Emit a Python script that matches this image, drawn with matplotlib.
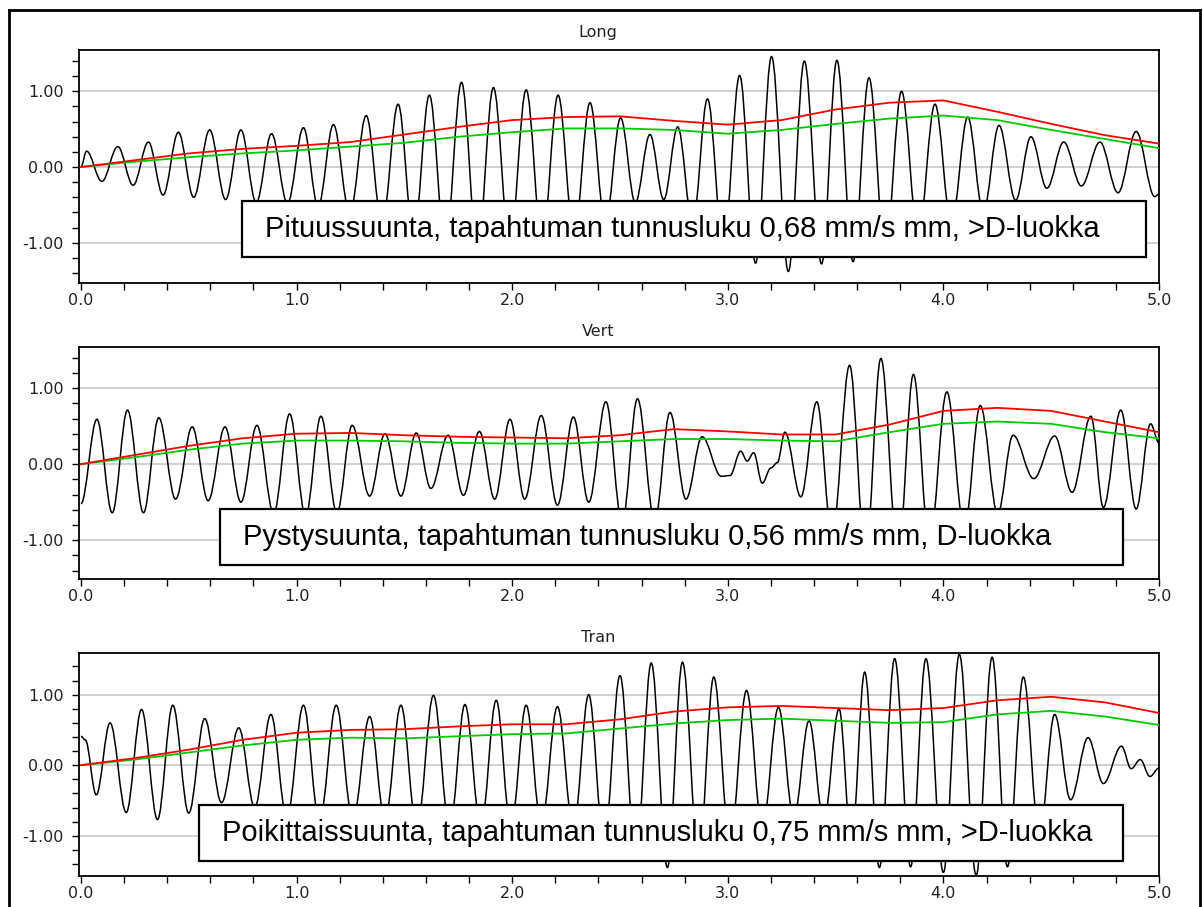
import matplotlib
matplotlib.use("Agg")
import matplotlib.pyplot as plt
from matplotlib.path import Path
from matplotlib.patches import PathPatch, Rectangle
from matplotlib.lines import Line2D
from matplotlib.ticker import MultipleLocator, FixedLocator

# ---------------- data ----------------
titles = ["Long", "Vert", "Tran"]
box_texts = [
    "Pituussuunta, tapahtuman tunnusluku 0,68 mm/s mm, >D-luokka",
    "Pystysuunta, tapahtuman tunnusluku 0,56 mm/s mm, D-luokka",
    "Poikittaissuunta, tapahtuman tunnusluku 0,75 mm/s mm, >D-luokka",
]
x_tick_labels = ["0.0", "1.0", "2.0", "3.0", "4.0", "5.0"]
y_tick_labels = ["-1.00", "0.00", "1.00"]

# signal extrema (time s, value mm/s)
long_t = [0.0, 0.026, 0.097, 0.171, 0.242, 0.313, 0.381, 0.452, 0.523, 0.597, 0.671,
          0.742, 0.813, 0.884, 0.958, 1.032, 1.10, 1.171, 1.247, 1.323, 1.397, 1.471,
          1.543, 1.616, 1.69, 1.765, 1.839, 1.913, 1.989, 2.065, 2.139, 2.213, 2.287,
          2.361, 2.432, 2.503, 2.571, 2.639, 2.703, 2.768, 2.837, 2.906, 2.98, 3.055,
          3.129, 3.203, 3.281, 3.355, 3.435, 3.506, 3.581, 3.655, 3.73, 3.806, 3.883,
          3.961, 4.037, 4.113, 4.185, 4.258, 4.335, 4.406, 4.48, 4.558, 4.64, 4.726,
          4.81, 4.894, 4.98, 5.0]
long_v = [0.0, 0.21, -0.19, 0.27, -0.24, 0.33, -0.37, 0.46, -0.40, 0.49, -0.43,
          0.49, -0.47, 0.44, -0.48, 0.52, -0.52, 0.56, -0.62, 0.68, -0.75, 0.83,
          -0.90, 0.95, -1.02, 1.12, -1.08, 1.05, -1.02, 1.02, -0.98, 0.95, -0.90,
          0.85, -0.75, 0.65, -0.47, 0.43, -0.43, 0.53, -0.75, 0.90, -1.05, 1.21,
          -1.27, 1.46, -1.38, 1.40, -1.28, 1.41, -1.25, 1.18, -1.10, 1.00, -0.90,
          0.83, -0.75, 0.66, -0.60, 0.55, -0.44, 0.40, -0.28, 0.33, -0.25, 0.33,
          -0.34, 0.47, -0.39, -0.36]

vert_t = [0.0, 0.074, 0.145, 0.216, 0.290, 0.361, 0.439, 0.516, 0.590, 0.668, 0.742,
          0.816, 0.894, 0.968, 1.042, 1.113, 1.187, 1.258, 1.339, 1.410, 1.484, 1.555,
          1.623, 1.703, 1.774, 1.848, 1.919, 1.990, 2.058, 2.135, 2.210, 2.284, 2.355,
          2.435, 2.510, 2.581, 2.661, 2.732, 2.806, 2.881, 2.97, 3.01, 3.06, 3.09,
          3.12, 3.16, 3.20, 3.23, 3.265, 3.339, 3.413, 3.484, 3.565, 3.639, 3.710,
          3.790, 3.861, 3.935, 4.016, 4.097, 4.171, 4.252, 4.323, 4.419, 4.516, 4.597,
          4.684, 4.742, 4.823, 4.894, 4.961, 5.0]
vert_v = [-0.52, 0.59, -0.64, 0.71, -0.64, 0.61, -0.46, 0.49, -0.48, 0.49, -0.50,
          0.51, -0.65, 0.66, -0.68, 0.63, -0.64, 0.51, -0.42, 0.40, -0.42, 0.41,
          -0.32, 0.38, -0.41, 0.43, -0.46, 0.59, -0.46, 0.64, -0.54, 0.62, -0.50,
          0.82, -0.78, 0.86, -0.75, 0.68, -0.46, 0.36, -0.16, -0.15, 0.17, 0.04,
          0.15, -0.25, -0.05, 0.02, 0.42, -0.43, 0.82, -0.95, 1.30, -1.20, 1.39,
          -1.20, 1.18, -1.05, 0.95, -0.85, 0.77, -0.65, 0.38, -0.19, 0.37, -0.37,
          0.63, -0.57, 0.71, -0.59, 0.53, 0.28]

tran_t = [0.0, 0.02, 0.071, 0.135, 0.210, 0.281, 0.355, 0.426, 0.500, 0.574, 0.652,
          0.732, 0.806, 0.881, 0.955, 1.032, 1.106, 1.184, 1.261, 1.339, 1.41, 1.484,
          1.558, 1.635, 1.71, 1.781, 1.855, 1.926, 1.994, 2.065, 2.135, 2.210, 2.284,
          2.355, 2.426, 2.500, 2.574, 2.645, 2.72, 2.790, 2.865, 2.935, 3.01, 3.087,
          3.16, 3.235, 3.306, 3.377, 3.445, 3.516, 3.574, 3.635, 3.703, 3.774, 3.848,
          3.919, 4.0, 4.074, 4.152, 4.226, 4.297, 4.371, 4.445, 4.516, 4.590, 4.671,
          4.742, 4.826, 4.871, 4.913, 4.958, 5.0]
tran_v = [0.41, 0.36, -0.42, 0.60, -0.67, 0.79, -0.77, 0.85, -0.68, 0.66, -0.53,
          0.53, -0.60, 0.72, -0.75, 0.85, -0.80, 0.85, -0.78, 0.69, -0.78, 0.85,
          -0.90, 0.99, -0.90, 0.86, -0.88, 0.92, -0.88, 0.85, -0.85, 0.83, -0.90,
          1.00, -1.10, 1.27, -1.30, 1.45, -1.45, 1.46, -1.30, 1.25, -1.10, 1.06,
          -0.90, 0.82, -0.75, 0.63, -0.80, 0.80, -1.10, 1.32, -1.45, 1.51, -1.44,
          1.51, -1.52, 1.57, -1.56, 1.53, -1.44, 1.25, -1.00, 0.72, -0.49, 0.39,
          -0.26, 0.27, -0.05, 0.08, -0.16, -0.04]

# running envelope curves (red and green), sampled every 0.25 s
env_t = [0.0, 0.25, 0.5, 0.75, 1.0, 1.25, 1.5, 1.75, 2.0, 2.25, 2.5,
         2.75, 3.0, 3.25, 3.5, 3.75, 4.0, 4.25, 4.5, 4.75, 5.0]
long_red = [0.0, 0.09, 0.18, 0.24, 0.28, 0.33, 0.43, 0.53, 0.62, 0.66, 0.67,
            0.61, 0.56, 0.62, 0.76, 0.85, 0.88, 0.73, 0.57, 0.42, 0.31]
long_green = [0.0, 0.07, 0.13, 0.18, 0.22, 0.27, 0.32, 0.40, 0.46, 0.51, 0.51,
              0.49, 0.44, 0.49, 0.57, 0.64, 0.68, 0.62, 0.49, 0.37, 0.25]
vert_red = [0.0, 0.12, 0.24, 0.34, 0.40, 0.41, 0.38, 0.36, 0.35, 0.34, 0.38,
            0.46, 0.43, 0.39, 0.39, 0.52, 0.70, 0.74, 0.70, 0.56, 0.42]
vert_green = [0.0, 0.09, 0.19, 0.27, 0.31, 0.31, 0.30, 0.28, 0.27, 0.27, 0.30,
              0.33, 0.33, 0.31, 0.30, 0.42, 0.53, 0.56, 0.53, 0.42, 0.34]
tran_red = [0.0, 0.10, 0.22, 0.36, 0.46, 0.50, 0.51, 0.55, 0.58, 0.58, 0.65,
            0.76, 0.82, 0.84, 0.81, 0.78, 0.81, 0.92, 0.97, 0.89, 0.74]
tran_green = [0.0, 0.08, 0.18, 0.28, 0.36, 0.39, 0.38, 0.41, 0.44, 0.45, 0.52,
              0.59, 0.64, 0.66, 0.63, 0.60, 0.61, 0.72, 0.77, 0.69, 0.57]

signals = [(long_t, long_v), (vert_t, vert_v), (tran_t, tran_v)]
envelopes = [(long_red, long_green), (vert_red, vert_green), (tran_red, tran_green)]

# ---------------- layout (pixels of the 1203 x 907 canvas) ----------------
W, H = 1203, 907
axes_px = [(79, 50, 1159, 283), (79, 347, 1159, 579), (79, 653, 1159, 876)]
ylims = [(-1.532, 1.546), (-1.51, 1.54), (-1.57, 1.59)]
title_y_px = [33, 331, 637]
box_px = [(242, 201, 1146, 257), (220, 509, 1123, 565), (199, 805, 1123, 861)]

tick_family = "DejaVu Sans"
tick_size = 11.5

fig = plt.figure(figsize=(W / 100, H / 100), dpi=100)
fig.patch.set_facecolor("white")


def smooth_path(t, v):
    verts = [(t[0], v[0])]
    codes = [Path.MOVETO]
    for i in range(len(t) - 1):
        dt = t[i + 1] - t[i]
        verts += [(t[i] + 0.36 * dt, v[i]), (t[i + 1] - 0.36 * dt, v[i + 1]),
                  (t[i + 1], v[i + 1])]
        codes += [Path.CURVE4] * 3
    return Path(verts, codes)


for k in range(3):
    x0, y0, x1, y1 = axes_px[k]
    ax = fig.add_axes([x0 / W, 1 - y1 / H, (x1 - x0) / W, (y1 - y0) / H])
    ax.set_xlim(-0.009, 5.0)
    ax.set_ylim(*ylims[k])
    ax.set_facecolor("white")

    for gy in (-1.0, 0.0, 1.0):
        ax.axhline(gy, color="#c8c8c8", lw=1.2, zorder=1)

    t, v = signals[k]
    ax.add_patch(PathPatch(smooth_path(t, v), fill=False, edgecolor="black",
                           lw=1.1, zorder=2, joinstyle="round"))

    red, green = envelopes[k]
    ax.plot(env_t, green, color="#00cc00", lw=1.3, zorder=3)
    ax.plot(env_t, red, color="#ff0000", lw=1.3, zorder=4)

    ax.set_xticks([0, 1, 2, 3, 4, 5])
    ax.set_xticklabels(x_tick_labels)
    ax.xaxis.set_minor_locator(MultipleLocator(0.2))
    ax.set_yticks([-1.0, 0.0, 1.0])
    ax.set_yticklabels(y_tick_labels)
    ax.yaxis.set_minor_locator(FixedLocator([i * 0.2 for i in range(-7, 8)]))
    ax.tick_params(axis="both", which="both", direction="out", length=5,
                   width=1.0, color="black")
    ax.tick_params(axis="x", which="major", pad=2)
    ax.tick_params(axis="y", which="major", pad=6)
    for lab in ax.get_xticklabels() + ax.get_yticklabels():
        lab.set_fontfamily(tick_family)
        lab.set_fontsize(tick_size)
        lab.set_color("#222222")
    for sp in ax.spines.values():
        sp.set_linewidth(1.3)
        sp.set_color("black")

    fig.text(598 / W, 1 - title_y_px[k] / H, titles[k], ha="center", va="center",
             fontsize=11.5, family=tick_family, color="#222222")

    bx0, by0, bx1, by1 = box_px[k]
    fx0, fx1 = (bx0 - x0) / (x1 - x0), (bx1 - x0) / (x1 - x0)
    fy_top, fy_bot = 1 - (by0 - y0) / (y1 - y0), 1 - (by1 - y0) / (y1 - y0)
    ax.add_patch(Rectangle((fx0, fy_bot), fx1 - fx0, fy_top - fy_bot,
                           transform=ax.transAxes, facecolor="white",
                           edgecolor="black", lw=1.6, zorder=10))
    ax.text(fx0 + 23 / (x1 - x0), (fy_top + fy_bot) / 2, box_texts[k],
            transform=ax.transAxes, ha="left", va="center", fontsize=21,
            family="Liberation Sans", color="black", zorder=11)

# outer frame
fig.add_artist(Line2D([9 / W, 9 / W], [0, 1 - 10 / H], color="black", lw=2.0))
fig.add_artist(Line2D([9 / W, 1200 / W], [1 - 10 / H, 1 - 10 / H], color="black", lw=2.0))
fig.add_artist(Line2D([1200 / W, 1200 / W], [0, 1 - 10 / H], color="black", lw=2.0))

fig.savefig("out.png", dpi=100, facecolor="white")
